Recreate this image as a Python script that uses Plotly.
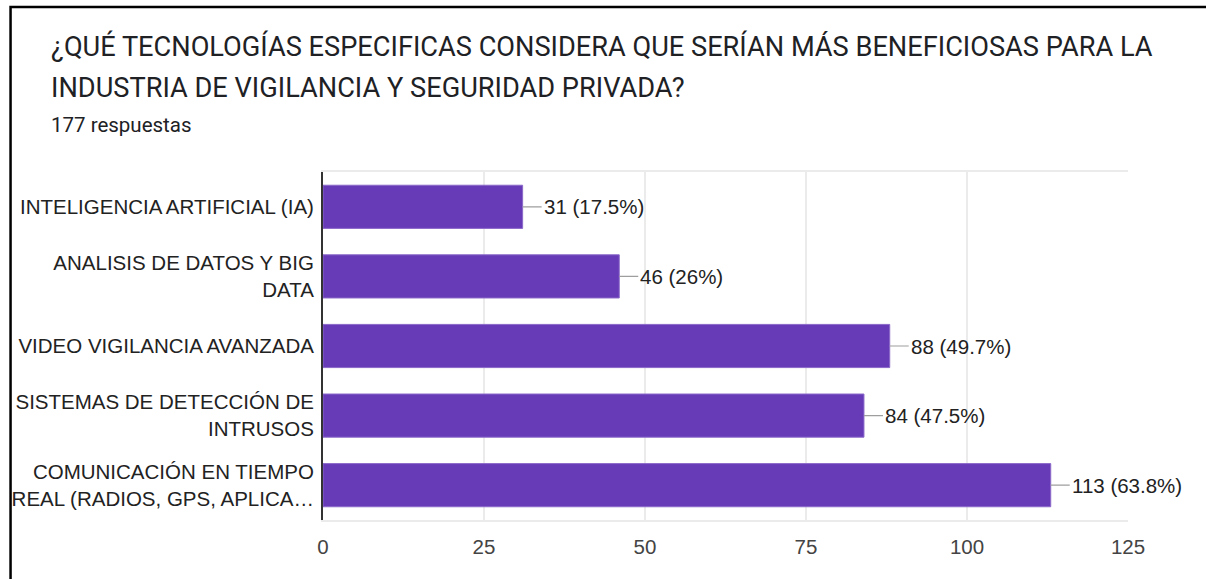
import plotly.graph_objects as go

categories = [
    "INTELIGENCIA ARTIFICIAL (IA)",
    "ANALISIS DE DATOS Y BIG<br>DATA",
    "VIDEO VIGILANCIA AVANZADA",
    "SISTEMAS DE DETECCIÓN DE<br>INTRUSOS",
    "COMUNICACIÓN EN TIEMPO<br>REAL (RADIOS, GPS, APLICA…",
]
counts = [31, 46, 88, 84, 113]
percents = ["17.5%", "26%", "49.7%", "47.5%", "63.8%"]
x_ticks = [0, 25, 50, 75, 100, 125]
title_lines = [
    "¿QUÉ TECNOLOGÍAS ESPECIFICAS CONSIDERA QUE SERÍAN MÁS BENEFICIOSAS PARA LA",
    "INDUSTRIA DE VIGILANCIA Y SEGURIDAD PRIVADA?",
]
subtitle = "177 respuestas"

W, H = 1206, 579
L, R, T, B = 319, 78, 172, 59
pw, ph = W - L - R, H - T - B

def px_x(px):
    return (px - L) / pw

def px_y(py):
    return (H - B - py) / ph

fig = go.Figure()
fig.add_trace(go.Bar(
    x=counts, y=categories, orientation="h",
    marker=dict(color="#673AB7", line=dict(color="#8a68c9", width=1)),
    width=0.62, hoverinfo="skip",
))

annotations = []
for c, cat, p in zip(counts, categories, percents):
    annotations.append(dict(
        x=c, y=cat, xref="x", yref="y", text=f"{c} ({p})",
        showarrow=True, arrowhead=0, arrowwidth=1.2, arrowcolor="#9e9e9e",
        ax=19, ay=0, xanchor="left", yanchor="middle",
        font=dict(family="Liberation Sans, Arial", size=20.5, color="#222222"),
    ))

annotations.append(dict(
    x=px_x(44), y=px_y(46), xref="paper", yref="paper", text=title_lines[0],
    showarrow=False, xanchor="left", yanchor="middle",
    font=dict(family="Roboto", size=27.2, color="#202124"),
))
annotations.append(dict(
    x=px_x(44), y=px_y(88), xref="paper", yref="paper", text=title_lines[1],
    showarrow=False, xanchor="left", yanchor="middle",
    font=dict(family="Roboto", size=27.2, color="#202124"),
))
annotations.append(dict(
    x=px_x(44), y=px_y(125), xref="paper", yref="paper", text=subtitle,
    showarrow=False, xanchor="left", yanchor="middle",
    font=dict(family="Roboto", size=20.5, color="#202124"),
))

bx_l, bx_r, by_t, by_b = px_x(5), px_x(W + 40), px_y(7), px_y(H + 40)
shapes = [
    dict(type="path", xref="paper", yref="paper",
         path=f"M {bx_r},{by_t} L {bx_l},{by_t} L {bx_l},{by_b}",
         line=dict(color="#000000", width=2.5), fillcolor="rgba(0,0,0,0)"),
]

fig.update_layout(
    width=W, height=H,
    margin=dict(l=L, r=R, t=T, b=B, pad=0),
    paper_bgcolor="white", plot_bgcolor="white",
    showlegend=False,
    bargap=0.38,
    annotations=annotations,
    shapes=shapes,
    xaxis=dict(
        range=[0, 125], tickvals=x_ticks, ticktext=[str(v) for v in x_ticks],
        showgrid=True, gridcolor="#ebebeb", gridwidth=1.5, zeroline=False,
        showline=True, mirror=True, linecolor="#ebebeb", linewidth=1.5,
        tickfont=dict(family="Liberation Sans, Arial", size=20.5, color="#444444"),
        ticks="", ticklabelstandoff=8,
    ),
    yaxis=dict(
        autorange="reversed", showgrid=False, zeroline=False,
        showline=True, linecolor="#333333", linewidth=2,
        tickfont=dict(family="Liberation Sans, Arial", size=20.5, color="#222222"),
        ticks="", ticklabelstandoff=3,
    ),
)

fig.write_html(
    "out.html",
    config={"displayModeBar": False},
    post_script=(
        "document.body.style.margin='0';"
        "document.body.style.overflow='hidden';"
        "document.documentElement.style.overflow='hidden';"
    ),
)
